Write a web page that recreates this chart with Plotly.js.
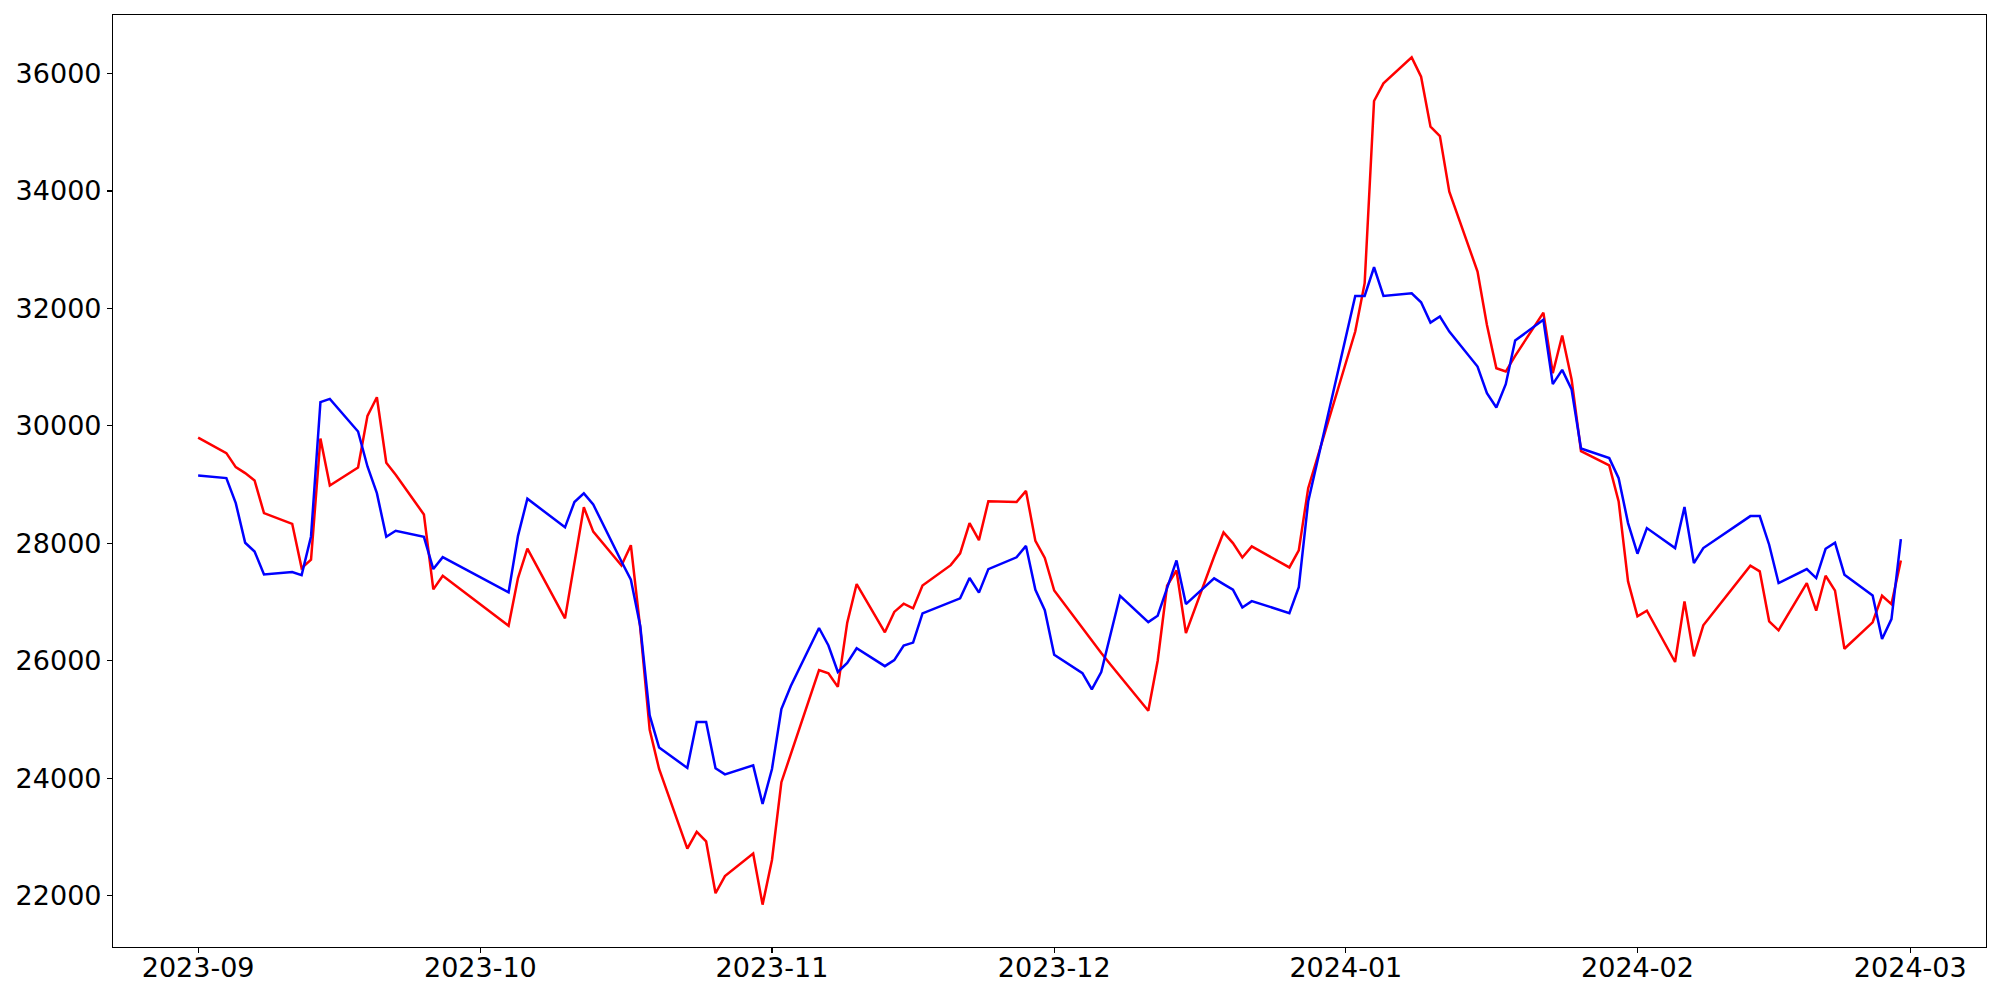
<!DOCTYPE html>
<html>
<head>
<meta charset="utf-8">
<script src="https://cdn.plot.ly/plotly-3.0.1.min.js"></script>
<style>
  html, body { margin: 0; padding: 0; background: #ffffff; }
  #chart { width: 2000px; height: 1000px; }
</style>
</head>
<body>
<div id="chart"></div>
<script>
// Trading dates (KRX calendar)
const dates = [
  "2023-09-01","2023-09-04","2023-09-05","2023-09-06","2023-09-07","2023-09-08","2023-09-11","2023-09-12","2023-09-13","2023-09-14","2023-09-15","2023-09-18","2023-09-19","2023-09-20","2023-09-21","2023-09-22","2023-09-25","2023-09-26","2023-09-27",
  "2023-10-04","2023-10-05","2023-10-06","2023-10-10","2023-10-11","2023-10-12","2023-10-13","2023-10-16","2023-10-17","2023-10-18","2023-10-19","2023-10-20","2023-10-23","2023-10-24","2023-10-25","2023-10-26","2023-10-27","2023-10-30","2023-10-31",
  "2023-11-01","2023-11-02","2023-11-03","2023-11-06","2023-11-07","2023-11-08","2023-11-09","2023-11-10","2023-11-13","2023-11-14","2023-11-15","2023-11-16","2023-11-17","2023-11-20","2023-11-21","2023-11-22","2023-11-23","2023-11-24","2023-11-27","2023-11-28","2023-11-29","2023-11-30",
  "2023-12-01","2023-12-04","2023-12-05","2023-12-06","2023-12-07","2023-12-08","2023-12-11","2023-12-12","2023-12-13","2023-12-14","2023-12-15","2023-12-18","2023-12-19","2023-12-20","2023-12-21","2023-12-22","2023-12-26","2023-12-27","2023-12-28",
  "2024-01-02","2024-01-03","2024-01-04","2024-01-05","2024-01-08","2024-01-09","2024-01-10","2024-01-11","2024-01-12","2024-01-15","2024-01-16","2024-01-17","2024-01-18","2024-01-19","2024-01-22","2024-01-23","2024-01-24","2024-01-25","2024-01-26","2024-01-29","2024-01-30","2024-01-31",
  "2024-02-01","2024-02-02","2024-02-05","2024-02-06","2024-02-07","2024-02-08","2024-02-13","2024-02-14","2024-02-15","2024-02-16","2024-02-19","2024-02-20","2024-02-21","2024-02-22","2024-02-23","2024-02-26","2024-02-27","2024-02-28","2024-02-29"
];

// Red series
const redValues = [
  29800,29535,29297,29195,29070,28514,28332,27578,27720,29785,28985,29291,30171,30488,29371,29166,28491,27215,27447,
  26595,27409,27908,26722,27652,28613,28199,27622,27968,26550,24826,24157,22801,23087,22923,22041,22333,22716,21847,
  22607,23932,24412,25841,25786,25555,26649,27306,26485,26832,26971,26892,27282,27628,27829,28345,28054,28716,28704,28892,28041,27750,
  27196,26545,26330,26131,25933,25734,25150,26001,27277,27538,26471,27776,28185,28003,27759,27947,27589,27879,28939,
  31606,32429,35532,35832,36275,35946,35095,34936,33989,32627,31719,30982,30925,31192,31929,30897,31538,30790,29570,29326,28713,27351,
  26756,26852,25979,27011,26075,26603,27618,27522,26671,26518,27323,26852,27448,27195,26205,26655,27107,26965,27708
];

// Blue series
const blueValues = [
  29155,29110,28684,28009,27861,27470,27510,27459,28117,30403,30460,29904,29308,28854,28111,28213,28111,27561,27765,
  27166,28127,28759,28272,28704,28850,28661,27689,27379,26589,25069,24522,24175,24959,24959,24169,24066,24218,23561,
  24157,25178,25570,26558,26260,25810,25962,26212,25908,26011,26260,26309,26807,27002,27063,27409,27160,27561,27762,27956,27209,26862,
  26102,25790,25512,25808,26460,27107,26659,26767,27238,27708,26965,27402,27305,27209,26908,27016,26812,27254,28712,
  32213,32213,32701,32213,32258,32105,31759,31861,31606,31010,30556,30312,30710,31453,31805,30710,30954,30620,29615,29451,29110,28344,
  27823,28259,27919,28617,27664,27919,28463,28463,27976,27323,27561,27408,27907,28010,27465,27113,26369,26710,28071
];

const yTicks = [22000,24000,26000,28000,30000,32000,34000,36000];
const xTickVals = ["2023-09-01","2023-10-01","2023-11-01","2023-12-01","2024-01-01","2024-02-01","2024-03-01"];
const xTickText = ["2023-09","2023-10","2023-11","2023-12","2024-01","2024-02","2024-03"];

// matplotlib-like 5% margins
const allY = redValues.concat(blueValues);
const yMin = Math.min(...allY), yMax = Math.max(...allY);
const yPad = (yMax - yMin) * 0.05;
const t0 = new Date(dates[0] + "T00:00:00Z").getTime();
const t1 = new Date(dates[dates.length - 1] + "T00:00:00Z").getTime();
const xPad = (t1 - t0) * 0.05;
function iso(ms) { return new Date(ms).toISOString().replace("T", " ").replace("Z", ""); }

const traces = [
  { x: dates, y: redValues, type: "scatter", mode: "lines", line: { color: "#ff0000", width: 2.5 }, showlegend: false, hoverinfo: "skip" },
  { x: dates, y: blueValues, type: "scatter", mode: "lines", line: { color: "#0000ff", width: 2.5 }, showlegend: false, hoverinfo: "skip" }
];

const font = { family: "DejaVu Sans, sans-serif", size: 27, color: "#000000" };

const layout = {
  width: 2000, height: 1000,
  margin: { l: 113, r: 14, t: 15, b: 53, pad: 0 },
  paper_bgcolor: "#ffffff", plot_bgcolor: "#ffffff",
  font: font,
  xaxis: {
    type: "date",
    range: [iso(t0 - xPad), iso(t1 + xPad)],
    tickmode: "array", tickvals: xTickVals, ticktext: xTickText,
    ticks: "outside", ticklen: 5, tickwidth: 1.1, tickcolor: "#000",
    ticklabelstandoff: -9,
    showline: true, linecolor: "#000", linewidth: 1.1, mirror: true,
    showgrid: false, zeroline: false,
    tickfont: font
  },
  yaxis: {
    range: [yMin - yPad, yMax + yPad],
    tickmode: "array", tickvals: yTicks, ticktext: yTicks.map(String),
    ticks: "outside", ticklen: 5, tickwidth: 1.1, tickcolor: "#000",
    showline: true, linecolor: "#000", linewidth: 1.1, mirror: true,
    showgrid: false, zeroline: false,
    tickfont: font
  }
};

Plotly.newPlot("chart", traces, layout, { staticPlot: true, displayModeBar: false });
</script>
</body>
</html>
